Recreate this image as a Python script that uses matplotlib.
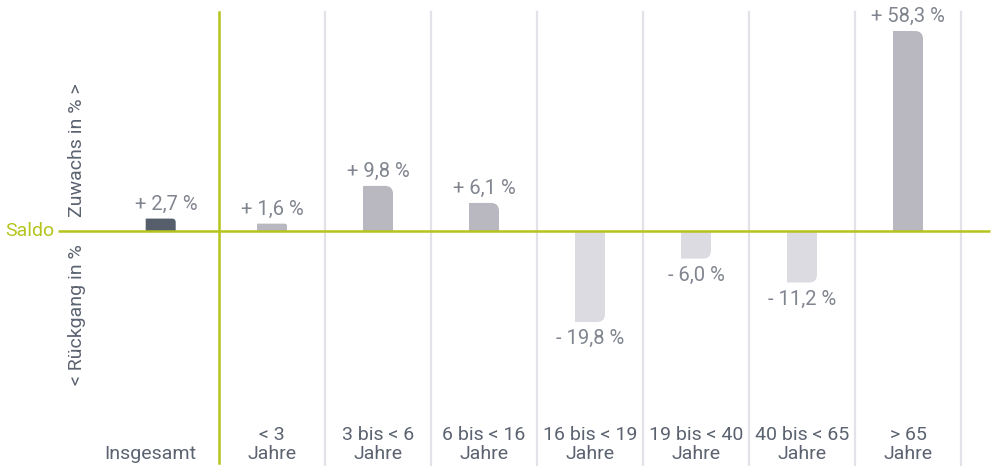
import numpy as np
import matplotlib
matplotlib.use("Agg")
import matplotlib.pyplot as plt
from matplotlib.path import Path
from matplotlib.patches import PathPatch
from matplotlib.transforms import ScaledTranslation

plt.rcParams['font.family'] = ['Roboto', 'DejaVu Sans']

# data
total_label = "Insgesamt"
total_value = 2.7
categories = ["< 3\nJahre", "3 bis < 6\nJahre", "6 bis < 16\nJahre", "16 bis < 19\nJahre",
              "19 bis < 40\nJahre", "40 bis < 65\nJahre", "> 65\nJahre"]
values = [1.6, 9.8, 6.1, -19.8, -6.0, -11.2, 58.3]

GREEN = "#b5c41c"
DARK = "#565e6b"
POS = "#b9b8c1"
NEG = "#dcdbe2"
SEP = "#e2e2e8"
TXT = "#80858f"
LAB = "#5b6270"

# compressed scale above 20 %
K = 0.613
def fwd(v):
    v = np.asarray(v, dtype=float)
    return np.where(v > 20, 20 + (v - 20) * K, v)

def inv(u):
    u = np.asarray(u, dtype=float)
    return np.where(u > 20, 20 + (u - 20) / K, u)

W, H = 998, 466
fig = plt.figure(figsize=(W / 100, H / 100), dpi=100)
ax = fig.add_axes([0, 0, 1, 1])
ax.set_yscale('function', functions=(fwd, inv))
px_x = 106.0
px_y = 4.6
x0 = -272 / px_x
ax.set_xlim(x0, x0 + W / px_x)
ylo = -235 / px_y
yhi = float(inv(231 / px_y))
ax.set_ylim(ylo, yhi)
ax.axis('off')

def px2x(p):
    return x0 + p / px_x

bw = 30 / px_x

def rounded_bar(xc, v, color):
    left, right = xc - bw / 2, xc + bw / 2
    h_px = abs(float(fwd(v))) * px_y
    r = min(8.0, 0.3 * h_px)
    rx = r / px_x
    if v >= 0:
        ycorner = float(inv(fwd(v) - r / px_y))
    else:
        ycorner = v + r / px_y
    verts = [(left, 0), (left, v), (right - rx, v), (right, v), (right, ycorner), (right, 0), (left, 0)]
    codes = [Path.MOVETO, Path.LINETO, Path.LINETO, Path.CURVE3, Path.CURVE3, Path.LINETO, Path.CLOSEPOLY]
    ax.add_patch(PathPatch(Path(verts, codes), facecolor=color, edgecolor='none', zorder=2))

def fmt(v):
    s = f"{abs(v):.1f}".replace('.', ',')
    return ("+ " if v > 0 else "- ") + s + " %"

def shifted(dy):
    return ax.transData + ScaledTranslation(0, dy / 100, fig.dpi_scale_trans)

# separators
xs = np.arange(len(categories))
top_frac = (H - 12) / H
for i in xs:
    ax.axvline(i + 0.5, ymin=0, ymax=top_frac, color=SEP, lw=1.6, zorder=1)
ax.axvline(-0.5, ymin=3 / H, ymax=top_frac, color=GREEN, lw=1.8, zorder=3)
ax.hlines(0, px2x(58), px2x(990), color=GREEN, lw=1.8, zorder=3)

# bars
xt = -1.05
rounded_bar(xt, total_value, DARK)
ax.text(xt + 0.05, total_value, fmt(total_value), ha='center', va='bottom', fontsize=14.5,
        color=TXT, transform=shifted(5))
for i, v in zip(xs, values):
    rounded_bar(i, v, POS if v > 0 else NEG)
    off = 5 if v > 0 else -7
    ax.text(i, v, fmt(v), ha='center', va='bottom' if v > 0 else 'top', fontsize=14.5,
            color=TXT, transform=shifted(off))

# category labels
for i, c in zip(xs, categories):
    ax.text(i, 3 / H, c, ha='center', va='bottom', fontsize=14, color=LAB, linespacing=1.1,
            transform=ax.get_xaxis_transform())
ax.text(xt - 0.1, 3 / H, total_label, ha='center', va='bottom', fontsize=14, color=LAB,
        transform=ax.get_xaxis_transform())

# side labels
ax.text(5 / W, 0, "Saldo", ha='left', va='center', fontsize=14, color=GREEN,
        transform=ax.get_yaxis_transform())
ax.text(77 / W, (H - 150) / H, "Zuwachs in % >", rotation=90, ha='center', va='center',
        fontsize=14, color=LAB, transform=ax.transAxes)
ax.text(77 / W, (H - 315) / H, "< Rückgang in %", rotation=90, ha='center', va='center',
        fontsize=14, color=LAB, transform=ax.transAxes)

fig.savefig("out.png", dpi=100)
